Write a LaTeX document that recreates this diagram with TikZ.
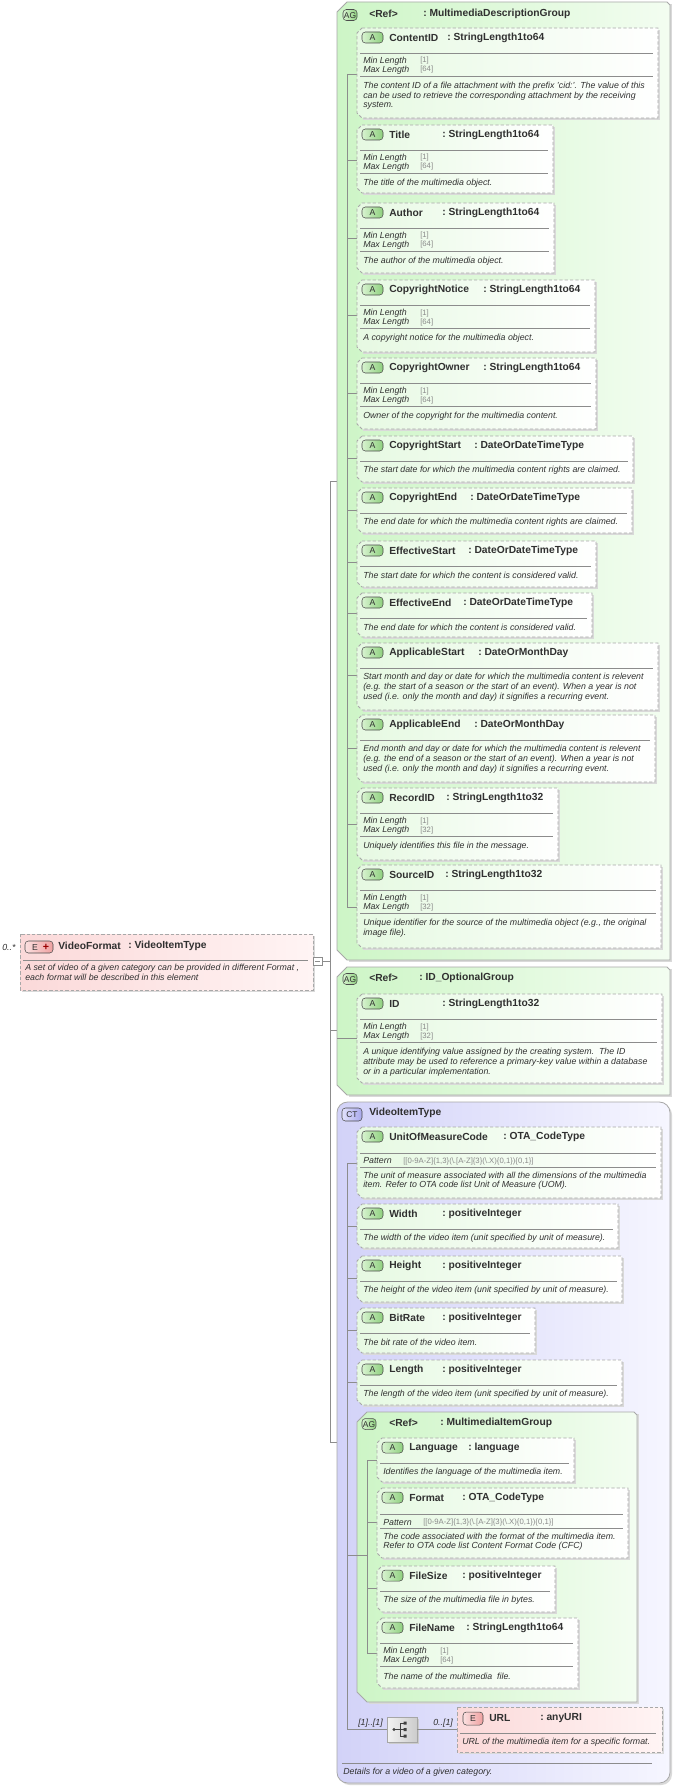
\documentclass[tikz,border=0pt]{standalone}
\usepackage{fontspec}
\setmainfont{Liberation Sans}
\definecolor{txtc}{HTML}{303030}
\definecolor{valc}{HTML}{8A8A8A}
\definecolor{bordc}{HTML}{A8A8A8}
\definecolor{agl}{HTML}{CDF5C6}
\definecolor{agr}{HTML}{F3FDF1}
\definecolor{al}{HTML}{E6F9E2}
\definecolor{ctl}{HTML}{D2D2F8}
\definecolor{ctr}{HTML}{F6F6FF}
\definecolor{el}{HTML}{FBD9D9}
\definecolor{er}{HTML}{FFF4F4}
\definecolor{tagl}{HTML}{D8F3D0}
\definecolor{tagr}{HTML}{8ED07E}
\definecolor{ctagl}{HTML}{E2E2FB}
\definecolor{ctagr}{HTML}{A8A8EC}
\definecolor{etagl}{HTML}{FBE0E0}
\definecolor{etagr}{HTML}{EFA0A0}
\definecolor{linec}{HTML}{8C8C8C}
\newcommand\hfont{\fontsize{7.7}{9}\selectfont\bfseries}
\newcommand\dfont{\fontsize{6.6}{7.5}\selectfont\itshape}
\newcommand\vfont{\fontsize{5.8}{7}\selectfont}
\tikzset{
 hd/.style={anchor=west,inner sep=0,font=\hfont,text=txtc},
 ds/.style={anchor=west,inner sep=0,font=\dfont,text=txtc},
 fv/.style={anchor=west,inner sep=0,font=\vfont,text=valc},
 sepc/.style={draw=linec,line width=0.4pt},
 tree/.style={draw=linec,line width=0.45pt},
 tagd/.style={draw=black!70,line width=0.4pt,rounded corners=2.5},
 dsh/.style={draw=bordc,line width=0.6pt,dash pattern=on 2.4pt off 1.6pt},
}
\newcommand\Abox[4]{%
 \fill[black!15] (#1+6,#2+2)--(#3+2,#2+2)--(#3+2,#4+2)--(#1+6,#4+2)--cycle;
 \path[dsh,left color=al,right color=white] (#1+5,#2)--(#3,#2)--(#3,#4)--(#1+5,#4)--(#1,#4-5)--(#1,#2+5)--cycle;}
\newcommand\Ahdr[3]{%
 \draw[tagd,left color=tagl,right color=tagr] (5,4) rectangle (26,15);
 \node[inner sep=0,font=\fontsize{6.5}{7}\selectfont,text=txtc] at (15.5,9.8) {A};
 \node[hd] at (32,10) {#1};
 \node[hd] at (#2,10) {:\ #3};}
\newcommand\Sep[1]{\draw[sepc] (3,#1)--(\bw,#1);}
\newcommand\Fct[3]{\node[ds] at (6,#1) {#2}; \node[fv] at (63,#1) {#3};}
\newcommand\Dsc[2]{\node[ds] at (6,#1) {#2};}
\newcommand\MinMax[1]{\Sep{25}\Fct{33}{Min Length}{[1]}\Fct{42}{Max Length}{[#1]}\Sep{48}}
\newcommand\Patt{\Sep{26}\node[ds] at (6,34) {Pattern}; \node[fv] at (46,34) {[[0-9A-Z]\{1,3\}(\textbackslash.[A-Z]\{3\}(\textbackslash.X)\{0,1\})\{0,1\}]}; \Sep{40}}
\newcommand\FB[8]{%
 \Abox{#1}{#2}{#3}{#4}
 \begin{scope}[shift={(#1,#2)}]
  \pgfmathsetmacro\bw{#3-#1-5}
  \Ahdr{#5}{#6-#1}{#7}
  #8
 \end{scope}}
\newcommand\AGbox[4]{%
 \fill[black!15] (#1+12,#2+2)--(#3+2,#2+2)--(#3+2,#4+2)--(#1+12,#4+2)--cycle;
 \path[draw=bordc,line width=0.6pt,left color=agl,right color=agr] (#1+10,#2)--(#3-3,#2)--(#3,#2+3)--(#3,#4)--(#1+10,#4)--(#1,#4-10)--(#1,#2+10)--cycle;}
\newcommand\AGtag[2]{\draw[tagd,left color=tagl,right color=tagr] (#1,#2-5.5) rectangle (#1+14,#2+5.5);
 \node[inner sep=0,font=\fontsize{6.3}{7}\selectfont,text=txtc] at (#1+7,#2+0.3) {AG};}
\begin{document}
\begin{tikzpicture}[x=0.75pt,y=-0.75pt]
\useasboundingbox[fill=white] (0,0) rectangle (675,1787);
% parent connector
\draw[tree] (322,961)--(330,961);
\draw[tree] (330,481)--(330,1442);
\draw[tree] (330,481)--(337,481) (330,1030)--(337,1030) (330,1442)--(337,1442);
% VideoFormat element
\node[ds] (mult) at (2,947) {0..*};
\fill[black!15] (22,936) rectangle (315,992);
\path[dsh,left color=el,right color=er] (20,934) rectangle (313,990);
\draw[tagd,left color=etagl,right color=etagr] (25,941) rectangle (53,953);
\node[inner sep=0,font=\fontsize{6.5}{7}\selectfont,text=txtc] (etag) at (35,947.3) {E};
\node[inner sep=0,font=\fontsize{8}{8}\selectfont\bfseries,text=red!60!black] (eplus) at (46,947) {+};
\node[hd] (vf) at (58,946) {VideoFormat};
\node[hd] (vft) at (128,946) {:\ VideoItemType};
\draw[sepc] (23,960)--(308,960);
\node[ds] (vfd1) at (25,968) {A set of video of a given category can be provided in different Format ,};
\node[ds] (vfd2) at (25,977) {each format will be described in this element};
\draw[draw=linec,fill=white] (313,957) rectangle (322,965);
\draw[linec] (315,961)--(320,961);
% ===== AG1
\AGbox{337}{2}{670}{960}
\AGtag{343}{15}
\node[hd] (ag1r) at (369,14) {<Ref>};
\node[hd] (ag1t) at (423,14) {:\ MultimediaDescriptionGroup};
\draw[tree] (347,74)--(347,907);
\foreach \t in {74,160,238,315,393,458,510,562,613,675,748,824,907} \draw[tree] (347,\t)--(357,\t);
\FB{357}{28}{658}{118}{ContentID}{447}{StringLength1to64}{\MinMax{64}
 \Dsc{58}{The content ID of a file attachment with the prefix 'cid:'. The value of this}
 \Dsc{68}{can be used to retrieve the corresponding attachment by the receiving}
 \Dsc{78}{system.}}
\FB{357}{125}{553}{193}{Title}{442}{StringLength1to64}{\MinMax{64}\Dsc{58}{The title of the multimedia object.}}
\FB{357}{203}{554}{273}{Author}{442}{StringLength1to64}{\MinMax{64}\Dsc{58}{The author of the multimedia object.}}
\FB{357}{280}{595}{352}{CopyrightNotice}{483}{StringLength1to64}{\MinMax{64}\Dsc{58}{A copyright notice for the multimedia object.}}
\FB{357}{358}{596}{429}{CopyrightOwner}{483}{StringLength1to64}{\MinMax{64}\Dsc{58}{Owner of the copyright for the multimedia content.}}
\FB{357}{436}{633}{482}{CopyrightStart}{474}{DateOrDateTimeType}{\Sep{25}\Dsc{34}{The start date for which the multimedia content rights are claimed.}}
\FB{357}{488}{632}{533}{CopyrightEnd}{470}{DateOrDateTimeType}{\Sep{25}\Dsc{34}{The end date for which the multimedia content rights are claimed.}}
\FB{357}{541}{596}{587}{EffectiveStart}{468}{DateOrDateTimeType}{\Sep{25}\Dsc{34}{The start date for which the content is considered valid.}}
\FB{357}{593}{592}{637}{EffectiveEnd}{463}{DateOrDateTimeType}{\Sep{25}\Dsc{34}{The end date for which the content is considered valid.}}
\FB{357}{643}{658}{710}{ApplicableStart}{478}{DateOrMonthDay}{\Sep{25}
 \Dsc{34}{Start month and day or date for which the multimedia content is relevent}
 \Dsc{44}{(e.g. the start of a season or the start of an event). When a year is not}
 \Dsc{54}{used (i.e. only the month and day) it signifies a recurring event.}}
\FB{357}{715}{655}{782}{ApplicableEnd}{474}{DateOrMonthDay}{\Sep{25}
 \Dsc{34}{End month and day or date for which the multimedia content is relevent}
 \Dsc{44}{(e.g. the end of a season or the start of an event). When a year is not}
 \Dsc{54}{used (i.e. only the month and day) it signifies a recurring event.}}
\FB{357}{788}{558}{860}{RecordID}{446}{StringLength1to32}{\MinMax{32}\Dsc{58}{Uniquely identifies this file in the message.}}
\FB{357}{865}{661}{948}{SourceID}{445}{StringLength1to32}{\MinMax{32}
 \Dsc{58}{Unique identifier for the source of the multimedia object (e.g., the original}
 \Dsc{68}{image file).}}
% ===== AG2
\AGbox{337}{967}{670}{1095}
\AGtag{343}{979}
\node[hd] (ag2r) at (369,978) {<Ref>};
\node[hd] (ag2t) at (419,978) {:\ ID\_OptionalGroup};
\draw[tree] (337,1038)--(357,1038);
\FB{357}{994}{662}{1083}{ID}{442}{StringLength1to32}{\MinMax{32}
 \Dsc{58}{A unique identifying value assigned by the creating system.\ \ The ID}
 \Dsc{68}{attribute may be used to reference a primary-key value within a database}
 \Dsc{78}{or in a particular implementation.}}
% ===== CT
\fill[black!15,rounded corners=8] (339,1104) rectangle (672,1785);
\path[draw=bordc,line width=0.6pt,left color=ctl,right color=ctr,rounded corners=8] (337,1102) rectangle (670,1783);
\draw[tagd,left color=ctagl,right color=ctagr] (342,1108) rectangle (362,1121);
\node[inner sep=0,font=\fontsize{6.3}{7}\selectfont,text=txtc] (cttag) at (352,1114.8) {CT};
\node[hd] (ctn) at (369,1113) {VideoItemType};
\draw[tree] (347,1163)--(347,1729);
\foreach \t in {1163,1226,1278,1330,1382} \draw[tree] (347,\t)--(357,\t);
\FB{357}{1127}{661}{1198}{UnitOfMeasureCode}{503}{OTA\_CodeType}{\Patt
 \Dsc{48}{The unit of measure associated with all the dimensions of the multimedia}
 \Dsc{58}{item. Refer to OTA code list Unit of Measure (UOM).}}
\FB{357}{1204}{618}{1248}{Width}{442}{positiveInteger}{\Sep{25}\Dsc{34}{The width of the video item (unit specified by unit of measure).}}
\FB{357}{1256}{622}{1302}{Height}{442}{positiveInteger}{\Sep{25}\Dsc{34}{The height of the video item (unit specified by unit of measure).}}
\FB{357}{1308}{535}{1353}{BitRate}{442}{positiveInteger}{\Sep{25}\Dsc{34}{The bit rate of the video item.}}
\FB{357}{1360}{622}{1405}{Length}{442}{positiveInteger}{\Sep{25}\Dsc{34}{The length of the video item (unit specified by unit of measure).}}
% ===== AG3
\AGbox{357}{1412}{637}{1702}
\AGtag{362}{1424}
\node[hd] (ag3r) at (389,1423) {<Ref>};
\node[hd] (ag3t) at (440,1423) {:\ MultimediaItemGroup};
\draw[tree] (347,1555)--(367,1555);
\draw[tree] (367,1460)--(367,1653);
\foreach \t in {1460,1522,1588,1653} \draw[tree] (367,\t)--(377,\t);
\FB{377}{1438}{574}{1482}{Language}{468}{language}{\Sep{25}\Dsc{34}{Identifies the language of the multimedia item.}}
\FB{377}{1488}{628}{1558}{Format}{462}{OTA\_CodeType}{\Patt
 \Dsc{48}{The code associated with the format of the multimedia item.}
 \Dsc{58}{Refer to OTA code list Content Format Code (CFC)}}
\FB{377}{1566}{555}{1612}{FileSize}{462}{positiveInteger}{\Sep{25}\Dsc{34}{The size of the multimedia file in bytes.}}
\FB{377}{1618}{578}{1688}{FileName}{466}{StringLength1to64}{\MinMax{64}\Dsc{58}{The name of the multimedia\ \ file.}}
% ===== sequence + URL
\node[ds] (m1) at (358,1723) {[1]..[1]};
\draw[tree] (347,1729)--(387,1729);
\fill[black!20] (389,1719) rectangle (419,1744);
\path[draw=black!35,left color=black!5,right color=black!20] (387,1717) rectangle (417,1742) node[pos=0.5,inner sep=0] (seq) {};
\fill[black!75] (394,1729.5) circle (1.6);
\draw[black!75,line width=0.6pt] (394,1729.5)--(400,1729.5) (400,1723)--(400,1736);
\draw[black!75,line width=0.6pt] (400,1723)--(404,1723) (400,1729.5)--(404,1729.5) (400,1736)--(404,1736);
\fill[black!75] (403.5,1721.5) rectangle (406.5,1724.5) (403.5,1728) rectangle (406.5,1731) (403.5,1734.5) rectangle (406.5,1737.5);
\draw[tree] (417,1729)--(457,1729);
\node[ds] (m2) at (433,1723) {0..[1]};
\fill[black!15] (459,1709) rectangle (664,1754);
\path[dsh,left color=el,right color=er] (457,1707) rectangle (662,1752);
\draw[tagd,left color=etagl,right color=etagr] (463,1712) rectangle (483,1725);
\node[inner sep=0,font=\fontsize{6.5}{7}\selectfont,text=txtc] (utag) at (473,1718.8) {E};
\node[hd] (url) at (489,1718) {URL};
\node[hd] (urlt) at (540,1718) {:\ anyURI};
\draw[sepc] (460,1733)--(656,1733);
\node[ds] (urld) at (462,1742) {URL of the multimedia item for a specific format.};
\draw[sepc] (342,1763)--(652,1763);
\node[ds] (ctd) at (343,1772) {Details for a video of a given category.};
\end{tikzpicture}
\end{document}
